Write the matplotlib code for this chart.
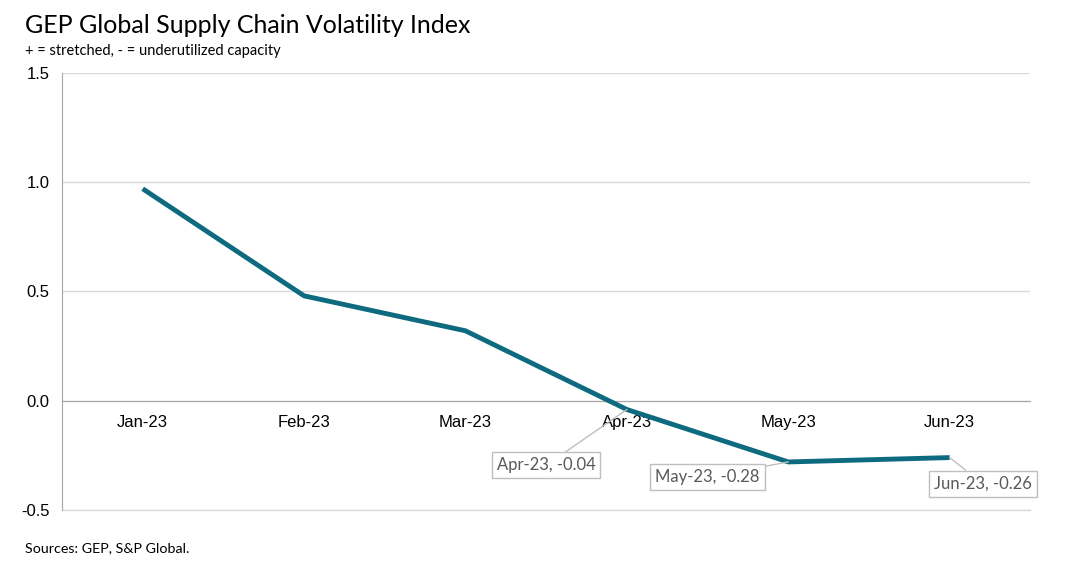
import matplotlib
matplotlib.use("Agg")
import matplotlib.pyplot as plt

# chart data
months = ["Jan-23", "Feb-23", "Mar-23", "Apr-23", "May-23", "Jun-23"]
values = [0.97, 0.48, 0.32, -0.04, -0.28, -0.26]
y_ticks = [-0.5, 0.0, 0.5, 1.0, 1.5]

# which points get a callout, and where the box sits (pixel offset)
callouts = {3: (-81, -56), 4: (-81, -15), 5: (33, -26)}

line_color = "#0e6b7f"
label_gray = "#595959"

fig = plt.figure(figsize=(10.76, 5.64), dpi=100)
ax = fig.add_axes([0.0576, 0.0957, 0.900, 0.775])

# move the category axis to y=0 first (this resets tick styling)
for s in ["top", "right"]:
    ax.spines[s].set_visible(False)
ax.spines["left"].set_color("#a6a6a6")
ax.spines["bottom"].set_position(("data", 0))
ax.spines["bottom"].set_color("#a6a6a6")

x = list(range(len(months)))
ax.plot(x, values, color=line_color, linewidth=3.5, solid_capstyle="butt", zorder=3)

ax.set_xlim(-0.5, len(months) - 0.5)
ax.set_ylim(-0.5, 1.5)
ax.set_yticks(y_ticks)
ax.set_yticklabels([f"{v:.1f}" for v in y_ticks], family="Liberation Sans", fontsize=12)
ax.set_xticks(x)
ax.set_xticklabels(months, family="Liberation Sans", fontsize=12)

ax.grid(axis="y", color="#d9d9d9", linewidth=1)
ax.axhline(-0.5, color="#d9d9d9", linewidth=1, clip_on=False, zorder=1)
ax.set_axisbelow(True)
ax.tick_params(axis="both", length=0)
ax.tick_params(axis="x", pad=10)
ax.tick_params(axis="y", pad=9)

for i, (dx, dy) in callouts.items():
    ax.annotate(f"{months[i]}, {values[i]:.2f}", xy=(i, values[i]),
                xytext=(dx, dy), textcoords="offset pixels",
                ha="center", va="center", fontsize=12, color=label_gray,
                family="Lato",
                bbox=dict(boxstyle="square,pad=0.3", fc="white", ec="#bfbfbf", lw=1),
                arrowprops=dict(arrowstyle="-", color="#bfbfbf", lw=1,
                                shrinkA=0, shrinkB=0),
                zorder=4)

fig.text(0.023, 0.955, "GEP Global Supply Chain Volatility Index",
         fontsize=18, family="Lato", va="center")
fig.text(0.023, 0.91, "+ = stretched, - = underutilized capacity",
         fontsize=10.5, family="Lato", va="center")
fig.text(0.023, 0.028, "Sources: GEP, S&P Global.",
         fontsize=10.3, family="Lato", va="center")

fig.savefig("out.png", dpi=100)
